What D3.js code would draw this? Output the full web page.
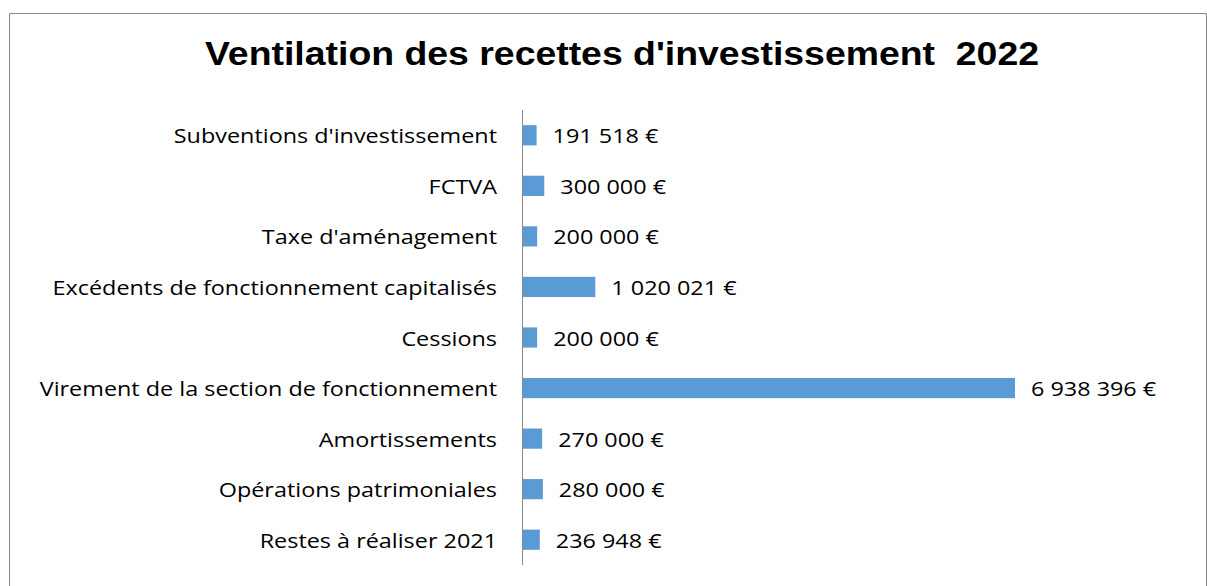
<!DOCTYPE html>
<html>
<head>
<meta charset="utf-8">
<script src="https://cdn.jsdelivr.net/npm/d3@7"></script>
<style>
  body { margin: 0; background: #fff; }
  svg { display: block; }
</style>
</head>
<body>
<svg width="1207" height="586"></svg>
<script>
"use strict";

// categories top to bottom and their amounts in euros
const categories = [
  "Subventions d'investissement",
  "FCTVA",
  "Taxe d'aménagement",
  "Excédents de fonctionnement capitalisés",
  "Cessions",
  "Virement de la section de fonctionnement",
  "Amortissements",
  "Opérations patrimoniales",
  "Restes à réaliser 2021"
];
const amounts = [191518, 300000, 200000, 1020021, 200000, 6938396, 270000, 280000, 236948];
const title = "Ventilation des recettes d'investissement  2022";

const svg = d3.select("svg");
const labelFont = "'Open Sans', Lato, sans-serif";
// the original text is a bit wider than our fonts
const stretch = 1.17;

// frame around the chart
svg.append("path")
  .attr("d", "M9.5,586 V13.5 H1206.5 V586")
  .attr("fill", "none")
  .attr("stroke", "#888")
  .attr("stroke-width", 1);

svg.append("text")
  .attr("transform", "translate(622,65) scale(1.1,1)")
  .attr("text-anchor", "middle")
  .style("font-family", "'Liberation Sans', Arial, sans-serif")
  .style("font-weight", "bold")
  .style("font-size", "34px")
  .style("white-space", "pre")
  .text(title);

const x = d3.scaleLinear()
  .domain([0, d3.max(amounts)])
  .range([523, 1015]);

const y = d3.scaleBand()
  .domain(categories)
  .range([110, 565])
  .paddingInner(0.6)
  .paddingOuter(0.3);

const fmt = (v) => d3.format(",")(v).replace(/,/g, " ") + " €";

// bars
svg.append("g")
  .selectAll("rect")
  .data(amounts)
  .enter()
  .append("rect")
  .attr("x", x(0))
  .attr("y", (d, i) => y(categories[i]))
  .attr("width", (d) => x(d) - x(0))
  .attr("height", y.bandwidth())
  .attr("fill", "#5B9BD5");

// value labels
svg.append("g")
  .selectAll("text")
  .data(amounts)
  .enter()
  .append("text")
  .attr("transform", (d, i) =>
    `translate(${x(d) + 16},${y(categories[i]) + y.bandwidth() / 2}) scale(${stretch},1)`)
  .attr("dy", "0.4em")
  .style("font-family", labelFont)
  .style("font-size", "20px")
  .attr("fill", "#000")
  .text(fmt);

// category axis
const axis = svg.append("g")
  .attr("transform", "translate(522.5,0)")
  .call(d3.axisLeft(y).tickSize(0).tickPadding(25));

axis.select(".domain").attr("stroke", "#888").attr("d", "M0,110V565");
axis.selectAll(".tick text")
  .attr("x", 0)
  .attr("dy", "0.4em")
  .attr("transform", `translate(-25.5,0) scale(${stretch},1)`)
  .style("font-family", labelFont)
  .style("font-size", "20px")
  .attr("fill", "#000");
</script>
</body>
</html>
